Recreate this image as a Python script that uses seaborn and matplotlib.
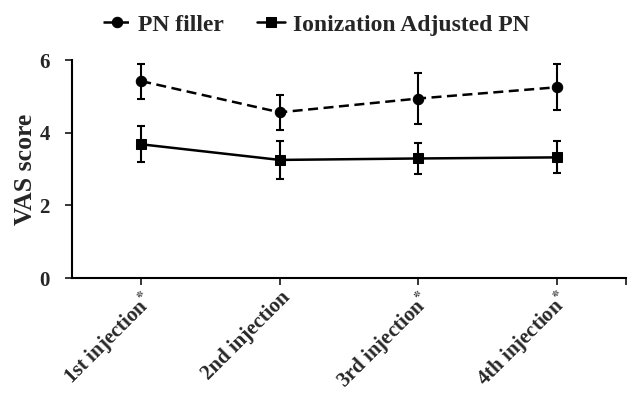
import pandas as pd
import matplotlib
matplotlib.use("Agg")
import matplotlib.pyplot as plt
import seaborn as sns

# data
categories = ["1st injection", "2nd injection", "3rd injection", "4th injection"]
significant = [True, False, True, True]

pn_filler = [5.42, 4.56, 4.94, 5.25]
pn_filler_sd = [0.48, 0.48, 0.70, 0.63]

ionized_pn = [3.68, 3.25, 3.29, 3.32]
ionized_pn_sd = [0.50, 0.53, 0.43, 0.44]

series_names = ["PN filler", "Ionization Adjusted PN"]

df = pd.DataFrame({
    "injection": categories * 2,
    "VAS": pn_filler + ionized_pn,
    "group": [series_names[0]] * 4 + [series_names[1]] * 4,
})

sns.set_style("white")
plt.rcParams["font.family"] = ["Liberation Serif", "DejaVu Serif"]
plt.rcParams["font.weight"] = "bold"
plt.rcParams["mathtext.fontset"] = "stix"

fig = plt.figure(figsize=(6.27, 3.98), dpi=100)
ax = fig.add_axes([0.1148, 0.3015, 0.8836, 0.5477])

sns.lineplot(
    data=df, x="injection", y="VAS", hue="group", style="group",
    palette=["black", "black"],
    dashes={series_names[0]: (4, 2.2), series_names[1]: ""},
    markers={series_names[0]: "o", series_names[1]: "s"},
    markersize=7.5, linewidth=1.8, markeredgecolor="black",
    sort=False, ax=ax,
)

for vals, sds in [(pn_filler, pn_filler_sd), (ionized_pn, ionized_pn_sd)]:
    ax.errorbar(categories, vals, yerr=sds, fmt="none", ecolor="black",
                elinewidth=1.5, capsize=3, capthick=1.5, zorder=3)

ax.set_xlim(-0.5, 3.5)
ax.set_ylim(0, 6)
ax.set_yticks([0, 2, 4, 6])
ax.set_xticks(range(len(categories)))
labels = [c + ("$^{*}$" if s else "") for c, s in zip(categories, significant)]
ax.set_xticklabels(labels, rotation=45, ha="right", va="top",
                   rotation_mode="anchor", fontsize=15, fontweight="bold")
ax.set_xticks([3.5], minor=True)
ax.tick_params(axis="y", labelsize=15, length=5, width=1.3, direction="out",
               left=True, pad=11)
ax.tick_params(axis="x", which="both", length=5, width=1.3, direction="out",
               bottom=True, pad=2)
for t in ax.get_yticklabels():
    t.set_fontweight("bold")

ax.set_xlabel("")
ax.set_ylabel("VAS score", fontsize=18.5, fontweight="bold")
ax.yaxis.set_label_coords(-0.063, 0.5)

sns.despine(ax=ax)
for side in ["left", "bottom"]:
    ax.spines[side].set_color("black")
    ax.spines[side].set_linewidth(1.5)

ax.legend(loc="upper center", bbox_to_anchor=(0.504, 1.0),
          bbox_transform=fig.transFigure, ncol=2, frameon=False,
          prop={"size": 17, "weight": "bold"}, handlelength=1.2,
          handletextpad=0.3, columnspacing=1.4, borderaxespad=0.2)

fig.savefig("out.png", dpi=100)
